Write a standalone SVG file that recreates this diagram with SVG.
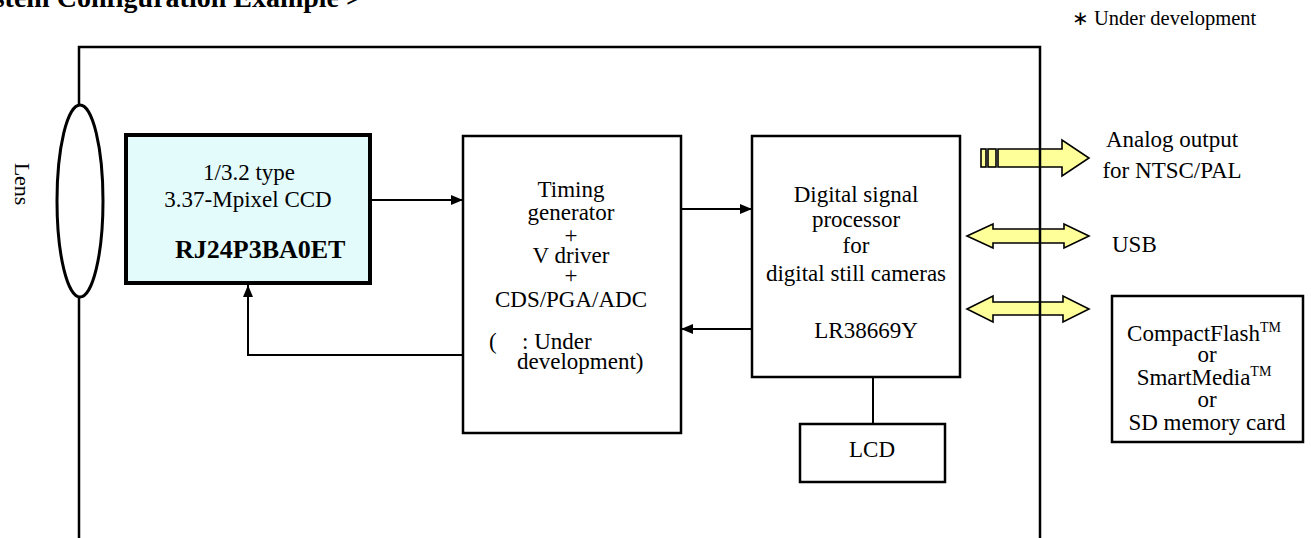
<svg xmlns="http://www.w3.org/2000/svg" width="1311" height="538" viewBox="0 0 1311 538">
<style>
text{font-family:"Liberation Serif","Times New Roman",serif;font-size:23px;fill:#000}
.c{text-anchor:middle}
.box{fill:#fff;stroke:#000;stroke-width:2.5}
.ln{fill:none;stroke:#000;stroke-width:2}
.ya{fill:#ffff99;stroke:#000;stroke-width:1.6;stroke-linejoin:miter}
.tm{font-size:14px}
</style>
<defs>
<marker id="ah" viewBox="0 0 12 10" refX="12" refY="5" markerWidth="12" markerHeight="10" markerUnits="userSpaceOnUse" orient="auto">
<path d="M0,0 L12,5 L0,10 Z" fill="#000"/>
</marker>
</defs>
<rect width="1311" height="538" fill="#fff"/>
<text x="362" y="7" text-anchor="end" style="font-weight:bold;font-size:28px">stem Configuration Example &gt;</text>
<text x="1072" y="25" style="font-size:20px">∗</text>
<text x="1094" y="25" style="font-size:20.5px">Under development</text>
<g id="arrows-io">
<g id="analog-arrow">
<rect class="ya" x="981" y="149" width="5" height="18"/>
<rect class="ya" x="988" y="149" width="8" height="18"/>
<polygon class="ya" points="998,149 1062,149 1062,140 1089,158 1062,176 1062,167 998,167"/>
</g>
<polygon id="usb-arrow" class="ya" points="967,236 993,224 993,229 1064,229 1064,224 1089,236 1064,248 1064,243 993,243 993,248"/>
<polygon id="mem-arrow" class="ya" points="967,309 993,296 993,302 1063,302 1063,296 1089,309 1063,322 1063,315 993,315 993,322"/>
</g>
<g id="frame">
<polyline class="ln" points="79,538 79,47 1040,47 1040,538" style="stroke-width:2.5"/>
</g>
<g id="lens">
<ellipse cx="80" cy="201" rx="23" ry="96" fill="#fff" stroke="#000" stroke-width="3"/>
<text transform="translate(15,184) rotate(90)" class="c" style="font-size:22px">Lens</text>
</g>
<g id="connectors">
<line class="ln" x1="370" y1="200" x2="463" y2="200" marker-end="url(#ah)"/>
<line class="ln" x1="681" y1="209" x2="752" y2="209" marker-end="url(#ah)"/>
<line class="ln" x1="752" y1="329" x2="681" y2="329" marker-end="url(#ah)"/>
<polyline class="ln" points="463,355 248,355 248,285" marker-end="url(#ah)"/>
<line class="ln" x1="873" y1="377" x2="873" y2="424"/>
</g>
<g id="ccd">
<rect x="126" y="135" width="244" height="148" fill="#e3fbfb" stroke="#000" stroke-width="4"/>
<text x="249" y="180" class="c">1/3.2 type</text>
<text x="248" y="207" class="c">3.37-Mpixel CCD</text>
<text x="175" y="258" style="font-weight:bold;font-size:26px">RJ24P3BA0ET</text>
</g>
<g id="tg">
<rect class="box" x="463" y="136" width="218" height="297"/>
<text x="571" y="197" class="c">Timing</text>
<text x="571" y="220" class="c">generator</text>
<text x="571" y="243" class="c">+</text>
<text x="571" y="263" class="c">V driver</text>
<text x="571" y="283" class="c">+</text>
<text x="571" y="307" class="c">CDS/PGA/ADC</text>
<text y="349"><tspan x="489">(</tspan><tspan x="522">: Under</tspan></text>
<text x="517" y="369">development)</text>
</g>
<g id="dsp">
<rect class="box" x="752" y="136" width="208" height="241"/>
<text x="856" y="202" class="c">Digital signal</text>
<text x="856" y="227" class="c">processor</text>
<text x="856" y="253" class="c">for</text>
<text x="856" y="281" class="c">digital still cameras</text>
<text x="866" y="338" class="c">LR38669Y</text>
</g>
<g id="lcd">
<rect class="box" x="800" y="424" width="145" height="58"/>
<text x="872" y="457" class="c">LCD</text>
</g>
<g id="analog-label">
<text x="1172" y="147" class="c">Analog output</text>
<text x="1172" y="178" class="c">for NTSC/PAL</text>
</g>
<g id="usb-label">
<text x="1112" y="252">USB</text>
</g>
<g id="memory">
<rect class="box" x="1112" y="296" width="191" height="146"/>
<text x="1204" y="341" class="c">CompactFlash<tspan class="tm" dy="-9">TM</tspan></text>
<text x="1207" y="362" class="c">or</text>
<text x="1204" y="385" class="c">SmartMedia<tspan class="tm" dy="-9">TM</tspan></text>
<text x="1207" y="407" class="c">or</text>
<text x="1207" y="430" class="c">SD memory card</text>
</g>
</svg>
